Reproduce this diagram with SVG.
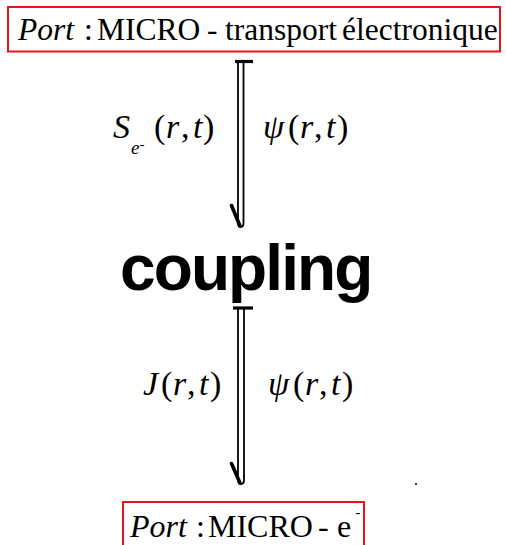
<svg xmlns="http://www.w3.org/2000/svg" width="506" height="545" viewBox="0 0 506 545">
<style>
.box{fill:#fff;stroke:#e8141b;stroke-width:2}
.t{font-family:"Liberation Serif","Times New Roman",serif;fill:#000}
.i{font-style:italic}
.line{fill:none;stroke:#000;stroke-width:1.8}
.barb{fill:none;stroke:#000;stroke-width:3.6;stroke-linecap:round}
.cap{fill:none;stroke:#000;stroke-width:3.2}
.cp{font-family:"Liberation Sans",Arial,Helvetica,sans-serif;font-weight:bold;fill:#000}
</style>
<rect width="506" height="545" fill="#fff"/>
<g id="port-top">
<rect class="box" x="8" y="7" width="492" height="44.5"/>
<text class="t" font-size="31.5" y="40"><tspan class="i" x="18">Port</tspan><tspan x="84">:</tspan><tspan x="97">MICRO</tspan><tspan x="207">-</tspan><tspan x="225">transport</tspan><tspan x="342">électronique</tspan></text>
</g>
<g id="coupling">
<text class="cp" x="120" y="290" font-size="64" letter-spacing="-1.9">coupling</text>
</g>
<g id="port-bottom">
<rect class="box" x="123" y="502" width="241" height="60"/>
<text class="t" font-size="32" y="537"><tspan class="i" x="130">Port</tspan><tspan x="196">:</tspan><tspan x="208">MICRO</tspan><tspan x="318">-</tspan><tspan x="337">e</tspan></text>
<text class="t" font-size="15" x="355.5" y="517">-</text>
</g>
<g id="connectors">
<g id="arrow-top">
<path class="line" d="M238,62 V223 Q238,227 240.7,227 Q243.5,227 243.5,223 V62"/>
<path class="cap" d="M235,61.5 H253"/>
<path class="barb" d="M231.5,205.5 L240,226"/>
</g>
<g id="arrow-bottom">
<path class="line" d="M238,308 V480 Q238,484 241,484 Q244,484 244,480 V308"/>
<path class="cap" d="M233,308 H253"/>
<path class="barb" d="M231.5,463.5 L240,483"/>
</g>
<g id="labels" class="t" font-size="34">
<text y="138"><tspan class="i" x="113">S</tspan><tspan x="154">(</tspan><tspan class="i" x="166">r</tspan><tspan x="181">,</tspan><tspan class="i" x="193">t</tspan><tspan x="203">)</tspan></text>
<text class="i" font-size="19" x="131" y="154">e</text>
<text font-size="15" x="139.5" y="149">-</text>
<text y="138"><tspan class="i" x="263">ψ</tspan><tspan x="288">(</tspan><tspan class="i" x="300">r</tspan><tspan x="314">,</tspan><tspan class="i" x="326">t</tspan><tspan x="337">)</tspan></text>
<text y="395"><tspan class="i" x="143">J</tspan><tspan x="161">(</tspan><tspan class="i" x="173">r</tspan><tspan x="187">,</tspan><tspan class="i" x="199">t</tspan><tspan x="210">)</tspan></text>
<text y="395"><tspan class="i" x="268">ψ</tspan><tspan x="293">(</tspan><tspan class="i" x="305">r</tspan><tspan x="319">,</tspan><tspan class="i" x="331">t</tspan><tspan x="342">)</tspan></text>
</g>
</g>
<circle cx="416" cy="484" r="1" fill="#000"/>
</svg>
